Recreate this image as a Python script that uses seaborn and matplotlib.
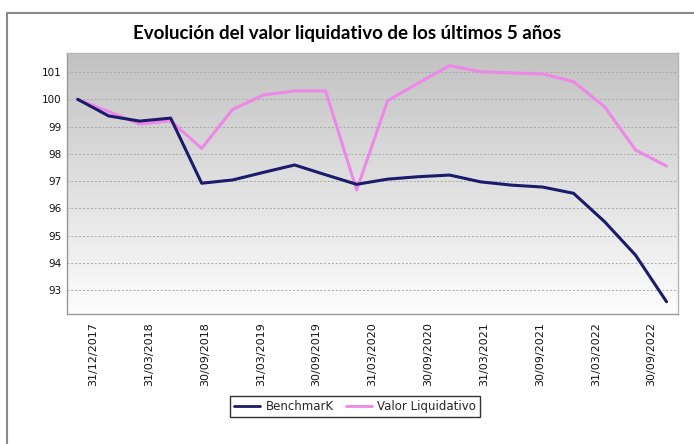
import numpy as np
import pandas as pd
import seaborn as sns
import matplotlib.pyplot as plt
from matplotlib.lines import Line2D

quarters = ["31/12/2017", "31/03/2018", "30/06/2018", "30/09/2018", "31/12/2018",
            "31/03/2019", "30/06/2019", "30/09/2019", "31/12/2019", "31/03/2020",
            "30/06/2020", "30/09/2020", "31/12/2020", "31/03/2021", "30/06/2021",
            "30/09/2021", "31/12/2021", "31/03/2022", "30/06/2022", "30/09/2022"]
benchmark = [100.0, 99.39, 99.2, 99.31, 96.92, 97.04, 97.32, 97.59, 97.23, 96.88,
             97.07, 97.16, 97.22, 96.97, 96.85, 96.78, 96.55, 95.51, 94.28, 92.57]
valor_liq = [100.0, 99.55, 99.09, 99.21, 98.2, 99.63, 100.16, 100.31, 100.31, 96.67,
             99.95, 100.6, 101.24, 101.01, 100.97, 100.93, 100.65, 99.73, 98.14, 97.55]
tick_labels = ["31/12/2017", "31/03/2018", "30/09/2018", "31/03/2019", "30/09/2019",
               "31/03/2020", "30/09/2020", "31/03/2021", "30/09/2021", "31/03/2022",
               "30/09/2022"]
series_names = ["BenchmarK", "Valor Liquidativo"]
colors = ["#1c1a6b", "#ee88e8"]

df = pd.DataFrame({
    "idx": list(range(len(quarters))) * 2,
    "valor": benchmark + valor_liq,
    "serie": [series_names[0]] * len(quarters) + [series_names[1]] * len(quarters),
})

sns.set_style("white")
plt.rcParams["font.family"] = ["DejaVu Sans"]

fig = plt.figure(figsize=(6.94, 4.44), dpi=100)
ax = fig.add_axes([67 / 694, 1 - 314 / 444, 611 / 694, 261 / 444])

# gradient background of the plot area
grad = np.linspace(0, 1, 256).reshape(-1, 1)
ax.imshow(grad, cmap=sns.blend_palette(["#c2c2c2", "#fdfdfd"], as_cmap=True),
          aspect="auto", extent=[0, 1, 0, 1], transform=ax.transAxes, zorder=0)

sns.lineplot(data=df[df.serie == series_names[1]], x="idx", y="valor", color=colors[1],
             lw=2.2, ax=ax, zorder=3, legend=False)
sns.lineplot(data=df[df.serie == series_names[0]], x="idx", y="valor", color=colors[0],
             lw=2.2, ax=ax, zorder=4, legend=False)

ax.set_xlim(-0.345, 19.37)
ax.set_ylim(92.12, 101.7)
ax.set_yticks(range(93, 102))
ax.set_xticks(np.linspace(0.5, 18.52, len(tick_labels)))
ax.set_xticklabels(tick_labels, rotation=90, fontsize=8, color="#111111")
ax.tick_params(axis="y", labelsize=7.5, colors="#111111", length=0, pad=4)
ax.tick_params(axis="x", length=3, width=0.8, color="#999999", pad=3)
ax.set_xlabel("")
ax.set_ylabel("")
ax.grid(axis="y", color="#a8a8a8", lw=0.7, ls=(0, (2, 2)))
for gl in ax.get_ygridlines():
    gl.set_zorder(1)
for sp in ax.spines.values():
    sp.set_color("#b5b5b5")
    sp.set_linewidth(1)
ax.spines["left"].set_color("#999999")
ax.spines["bottom"].set_color("#999999")

fig.suptitle("Evolución del valor liquidativo de los últimos 5 años", x=0.5, y=1 - 33 / 444,
             va="center", fontsize=13.5, fontweight="bold", family="Lato", color="black")

handles = [Line2D([], [], color=c, lw=2) for c in colors]
leg = fig.legend(handles, series_names, loc="center", bbox_to_anchor=(355 / 694, 1 - 406.5 / 444),
                 ncol=2, fontsize=8.5, frameon=True, fancybox=False, handlelength=2.2,
                 columnspacing=1.0, handletextpad=0.5, borderpad=0.35)
leg.get_frame().set_edgecolor("black")
leg.get_frame().set_linewidth(1)

# outer frame (left and top edges visible)
fig.add_artist(Line2D([7 / 694, 7 / 694], [0, 1 - 13 / 444], color="#8a8a8a", lw=1.5))
fig.add_artist(Line2D([7 / 694, 1], [1 - 13 / 444, 1 - 13 / 444], color="#8a8a8a", lw=1.5))

fig.savefig("out.png", dpi=100)
